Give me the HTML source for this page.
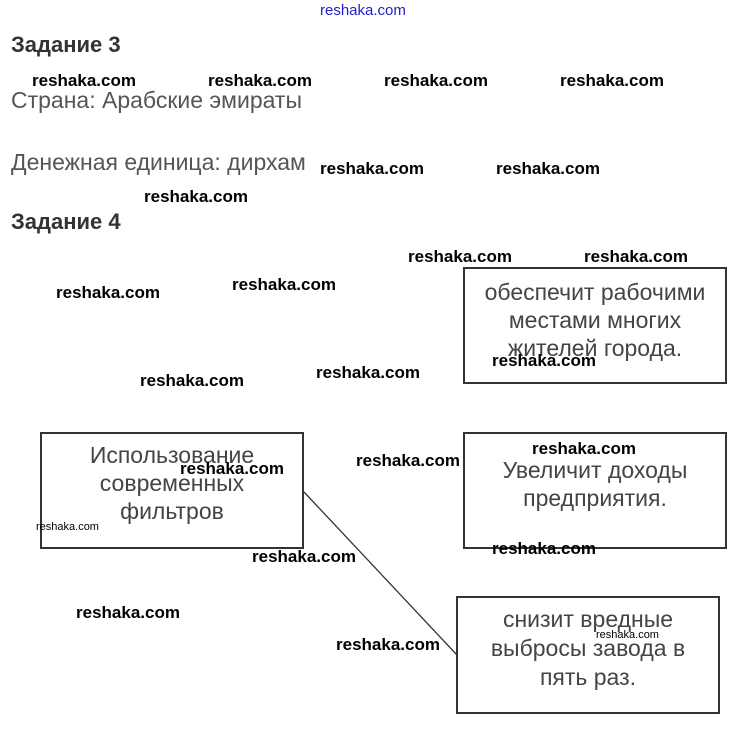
<!DOCTYPE html>
<html><head><meta charset="utf-8"><style>
body{margin:0;width:736px;height:731px;background:#fff;position:relative;overflow:hidden;font-family:"Liberation Sans",Arial,sans-serif}
.a{position:absolute;white-space:nowrap}
.w{position:absolute;white-space:nowrap;font-weight:bold;font-size:17px;color:#000;line-height:20px}
.s{position:absolute;white-space:nowrap;font-size:11px;color:#000;line-height:12px}
.h{font-weight:bold;font-size:22px;color:#333;left:11px;line-height:24px}
.t{font-size:23px;color:#555;left:11px;line-height:26px}
.box{position:absolute;border:2px solid #333;box-sizing:border-box;text-align:center;font-size:23px;color:#444;line-height:28px}
</style></head><body>
<div class="a" style="left:320px;top:2px;font-size:15px;color:#2222cc">reshaka.com</div>
<div class="a h" style="top:33px">Задание 3</div>
<div class="a t" style="top:87px">Страна: Арабские эмираты</div>
<div class="a t" style="top:149px">Денежная единица: дирхам</div>
<div class="a h" style="top:210px">Задание 4</div>

<div class="box" style="left:463px;top:267px;width:264px;height:117px;padding-top:9px">обеспечит рабочими<br>местами многих<br>жителей города.</div>
<div class="box" style="left:40px;top:432px;width:264px;height:117px;padding-top:7px">Использование<br>современных<br>фильтров</div>
<div class="box" style="left:463px;top:432px;width:264px;height:117px;padding-top:22px">Увеличит доходы<br>предприятия.</div>
<div class="box" style="left:456px;top:596px;width:264px;height:118px;padding-top:7px;line-height:29px">снизит вредные<br>выбросы завода в<br>пять раз.</div>
<svg class="a" style="left:0;top:0" width="736" height="731"><line x1="304" y1="492" x2="457" y2="655" stroke="#333" stroke-width="1.3"/></svg>

<div class="w" style="left:32px;top:71px">reshaka.com</div>
<div class="w" style="left:208px;top:71px">reshaka.com</div>
<div class="w" style="left:384px;top:71px">reshaka.com</div>
<div class="w" style="left:560px;top:71px">reshaka.com</div>
<div class="w" style="left:320px;top:159px">reshaka.com</div>
<div class="w" style="left:496px;top:159px">reshaka.com</div>
<div class="w" style="left:144px;top:187px">reshaka.com</div>
<div class="w" style="left:408px;top:247px">reshaka.com</div>
<div class="w" style="left:584px;top:247px">reshaka.com</div>
<div class="w" style="left:56px;top:283px">reshaka.com</div>
<div class="w" style="left:232px;top:275px">reshaka.com</div>
<div class="w" style="left:140px;top:371px">reshaka.com</div>
<div class="w" style="left:316px;top:363px">reshaka.com</div>
<div class="w" style="left:492px;top:351px">reshaka.com</div>
<div class="w" style="left:532px;top:439px">reshaka.com</div>
<div class="w" style="left:356px;top:451px">reshaka.com</div>
<div class="w" style="left:180px;top:459px">reshaka.com</div>
<div class="w" style="left:492px;top:539px">reshaka.com</div>
<div class="w" style="left:252px;top:547px">reshaka.com</div>
<div class="w" style="left:76px;top:603px">reshaka.com</div>
<div class="w" style="left:336px;top:635px">reshaka.com</div>
<div class="s" style="left:36px;top:521px">reshaka.com</div>
<div class="s" style="left:596px;top:629px">reshaka.com</div>
</body></html>
